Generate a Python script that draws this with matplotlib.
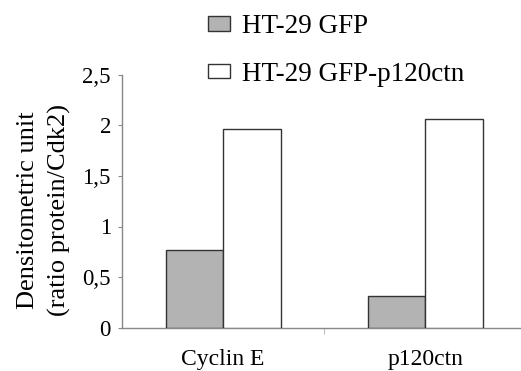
import matplotlib
matplotlib.use("Agg")
import matplotlib.pyplot as plt
import numpy as np

categories = ["Cyclin E", "p120ctn"]
series_names = ["HT-29 GFP", "HT-29 GFP-p120ctn"]
gfp = [0.765, 0.31]
gfp_p120 = [1.965, 2.065]
yticks = [0, 0.5, 1, 1.5, 2, 2.5]
ytick_labels = ["0", "0,5", "1", "1,5", "2", "2,5"]

plt.rcParams['font.family'] = ['Liberation Serif', 'DejaVu Serif']

fig = plt.figure(figsize=(5.21, 3.71), dpi=100)
W, H = 521, 371
left, right, bottom, top = 122, 526.6, 327.7, 74.7
ax = fig.add_axes([left / W, 1 - bottom / H, (right - left) / W, (bottom - top) / H])

x = np.arange(len(categories))
bw = 0.284
ax.bar(x - bw / 2, gfp, bw, color="#b3b3b3", edgecolor="#333333", linewidth=1.0,
       label=series_names[0], zorder=3)
ax.bar(x + bw / 2, gfp_p120, bw, color="white", edgecolor="#333333", linewidth=1.0,
       label=series_names[1], zorder=3)

ax.set_xlim(-0.5, 1.5)
ax.set_ylim(0, 2.5)
for s in ["top", "right"]:
    ax.spines[s].set_visible(False)
for s in ["left", "bottom"]:
    ax.spines[s].set_color("#888888")
    ax.spines[s].set_linewidth(1.0)

ax.set_yticks(yticks)
ax.set_yticklabels(ytick_labels, fontsize=16.5)
ax.tick_params(axis="y", length=3, color="#888888", pad=5)
ax.set_xticks(x)
ax.set_xticklabels(categories, fontsize=17)
ax.tick_params(axis="x", length=0, pad=15)
ax.set_xticks([0.5], minor=True)
ax.tick_params(axis="x", which="minor", length=4, color="#aaaaaa")

fig.text(44 / W, 1 - 210 / H, "Densitometric unit\n(ratio protein/Cdk2)", fontsize=19,
         rotation=90, ha="center", va="center", linespacing=1.55, multialignment="center")

fig.legend(loc="upper left", bbox_to_anchor=(208 / W, 1 - 14 / H), frameon=False,
           fontsize=19.5, handlelength=0.81, handleheight=0.45, handletextpad=0.44,
           labelspacing=0.84, borderaxespad=0, borderpad=0)

fig.savefig("out.png", dpi=100)
